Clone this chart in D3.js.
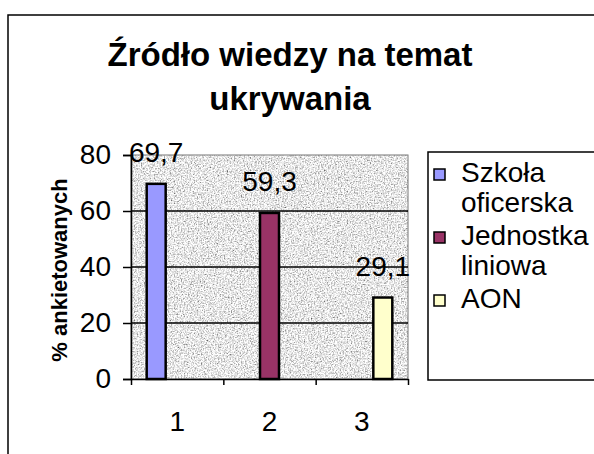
<!DOCTYPE html>
<html>
<head>
<meta charset="utf-8">
<script src="https://cdn.jsdelivr.net/npm/d3@7"></script>
<style>
  body { margin: 0; background: #fff; }
  svg text { font-family: "Liberation Sans", Arial, sans-serif; fill: #000; }
</style>
</head>
<body>
<div id="chart"></div>
<script>
// chart values
var categories = ["1", "2", "3"];
var series = ["Szkoła oficerska", "Jednostka liniowa", "AON"];
// each series has a value only in its own category
var values = [69.7, 59.3, 29.1];
var valueLabels = ["69,7", "59,3", "29,1"];
var legendLines = [["Szkoła", "oficerska"], ["Jednostka", "liniowa"], ["AON"]];
var yTicks = [0, 20, 40, 60, 80];
var colors = ["#9999ff", "#993366", "#ffffcc"];

var W = 594, H = 454;
var plot = {left: 131, right: 408, top: 155, bottom: 379};

var svg = d3.select("#chart")
    .append("svg")
    .attr("width", W)
    .attr("height", H);

// grey speckled background for plot area
var defs = svg.append("defs");
var noise = defs.append("filter")
    .attr("id", "noise")
    .attr("x", 0).attr("y", 0)
    .attr("width", "100%").attr("height", "100%");
noise.append("feTurbulence")
    .attr("type", "fractalNoise")
    .attr("baseFrequency", 0.7)
    .attr("numOctaves", 3)
    .attr("seed", 4);
noise.append("feColorMatrix")
    .attr("type", "matrix")
    .attr("values", "1.7 0 0 0 -0.05  1.7 0 0 0 -0.05  1.7 0 0 0 -0.05  0 0 0 0 1");

// chart frame
svg.append("rect")
    .attr("x", 8).attr("y", 15)
    .attr("width", 700).attr("height", 600)
    .attr("fill", "#fff")
    .attr("stroke", "#000")
    .attr("stroke-width", 1.5);

// title
var title = svg.append("text")
    .attr("text-anchor", "middle")
    .attr("font-weight", "bold")
    .attr("font-size", 33);
title.append("tspan").attr("x", 290).attr("y", 66).text("Źródło wiedzy na temat");
title.append("tspan").attr("x", 290).attr("y", 110).text("ukrywania");

var y = d3.scaleLinear()
    .domain([0, 80])
    .range([plot.bottom, plot.top]);

var x0 = d3.scaleBand()
    .domain(categories)
    .range([plot.left, plot.right]);

var x1 = d3.scaleBand()
    .domain(series)
    .range([0, x0.bandwidth()])
    .paddingOuter(0.7);

// plot area
svg.append("rect")
    .attr("x", plot.left).attr("y", plot.top)
    .attr("width", plot.right - plot.left)
    .attr("height", plot.bottom - plot.top)
    .attr("filter", "url(#noise)");
svg.append("rect")
    .attr("x", plot.left).attr("y", plot.top)
    .attr("width", plot.right - plot.left)
    .attr("height", plot.bottom - plot.top)
    .attr("fill", "none")
    .attr("stroke", "#777")
    .attr("stroke-width", 1);

// gridlines
svg.append("g")
    .selectAll("line")
    .data(yTicks.filter(function(d) { return d > 0 && d < 80; }))
    .enter()
    .append("line")
    .attr("x1", plot.left).attr("x2", plot.right)
    .attr("y1", function(d) { return Math.round(y(d)); })
    .attr("y2", function(d) { return Math.round(y(d)); })
    .attr("stroke", "#000")
    .attr("stroke-width", 1.5);

// y axis
var yAxis = svg.append("g")
    .attr("transform", "translate(" + plot.left + ",0)")
    .call(d3.axisLeft(y).tickValues(yTicks).tickSize(8).tickPadding(12));
yAxis.selectAll("text").attr("font-size", 28).attr("font-family", null);
yAxis.selectAll("line, path").attr("stroke", "#000").attr("stroke-width", 1.5);

// x axis: tick marks between categories
var xb = d3.scaleLinear().domain([0, 3]).range([plot.left, plot.right]);
var xAxis = svg.append("g")
    .attr("transform", "translate(0," + plot.bottom + ")")
    .call(d3.axisBottom(xb).tickValues([0, 1, 2, 3]).tickFormat("").tickSize(6).tickSizeOuter(0));
xAxis.selectAll("line, path").attr("stroke", "#000").attr("stroke-width", 1.5);

svg.append("g")
    .selectAll("text")
    .data(categories)
    .enter()
    .append("text")
    .attr("x", function(d) { return x0(d) + x0.bandwidth() / 2; })
    .attr("y", 431)
    .attr("text-anchor", "middle")
    .attr("font-size", 28)
    .text(function(d) { return d; });

// y axis title
svg.append("text")
    .attr("transform", "translate(67,270) rotate(-90)")
    .attr("text-anchor", "middle")
    .attr("font-weight", "bold")
    .attr("font-size", 22)
    .text("% ankietowanych");

// bars
var bars = svg.append("g");
series.forEach(function(s, i) {
    var cx = x0(categories[i]) + x1(s);
    bars.append("rect")
        .attr("x", cx + 1)
        .attr("y", y(values[i]))
        .attr("width", x1.bandwidth() - 2)
        .attr("height", y(0) - y(values[i]))
        .attr("fill", colors[i])
        .attr("stroke", "#000")
        .attr("stroke-width", 2.5);
    bars.append("text")
        .attr("x", cx + x1.bandwidth() / 2)
        .attr("y", y(values[i]) - 22)
        .attr("text-anchor", "middle")
        .attr("font-size", 28)
        .text(valueLabels[i]);
});

// legend
var legend = svg.append("g");
legend.append("rect")
    .attr("x", 428).attr("y", 152)
    .attr("width", 200).attr("height", 228)
    .attr("fill", "#fff")
    .attr("stroke", "#000")
    .attr("stroke-width", 1.5);

var lineY = 182;
legendLines.forEach(function(lines, i) {
    legend.append("rect")
        .attr("x", 434).attr("y", lineY - 13)
        .attr("width", 11).attr("height", 11)
        .attr("fill", colors[i])
        .attr("stroke", "#000")
        .attr("stroke-width", 1.5);
    lines.forEach(function(t, j) {
        legend.append("text")
            .attr("x", 461)
            .attr("y", lineY + j * 30)
            .attr("font-size", 28)
            .text(t);
    });
    lineY += lines.length * 30 + 3;
});
</script>
</body>
</html>
